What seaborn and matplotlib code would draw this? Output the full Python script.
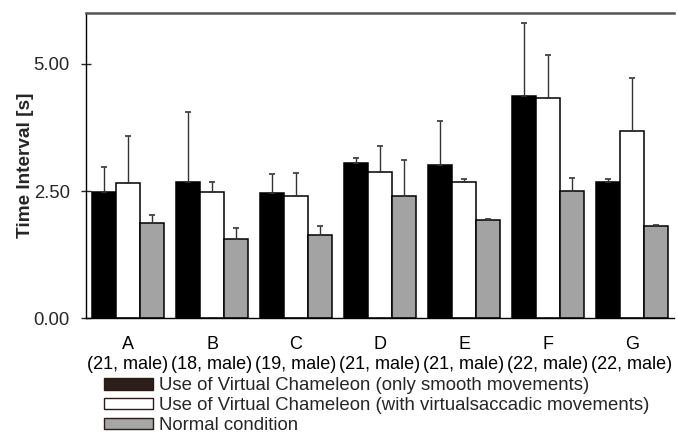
import numpy as np
import pandas as pd
import matplotlib
matplotlib.use("Agg")
import matplotlib.pyplot as plt
import seaborn as sns
from matplotlib.patches import Patch
from matplotlib.ticker import FormatStrFormatter, FixedLocator

# ---- data ----
subjects = ["A", "B", "C", "D", "E", "F", "G"]
subject_info = ["(21, male)", "(18, male)", "(19, male)", "(21, male)",
                "(21, male)", "(22, male)", "(22, male)"]
conditions = ["Use of Virtual Chameleon (only smooth movements)",
              "Use of Virtual Chameleon (with virtualsaccadic movements)",
              "Normal condition"]
smooth = [2.49, 2.67, 2.47, 3.05, 3.02, 4.36, 2.67]
smooth_err = [0.48, 1.38, 0.37, 0.10, 0.86, 1.44, 0.07]
saccadic = [2.65, 2.48, 2.41, 2.87, 2.67, 4.33, 3.69]
saccadic_err = [0.93, 0.19, 0.44, 0.52, 0.06, 0.85, 1.04]
normal = [1.875, 1.56, 1.63, 2.41, 1.94, 2.50, 1.82]
normal_err = [0.155, 0.22, 0.19, 0.70, 0.02, 0.26, 0.015]

values = [smooth, saccadic, normal]
errors = [smooth_err, saccadic_err, normal_err]

rows = []
for cond, vals, errs in zip(conditions, values, errors):
    for s, v, e in zip(subjects, vals, errs):
        rows.append({"subject": s, "condition": cond, "value": v, "err": e})
df = pd.DataFrame(rows)

# ---- style ----
sns.set_style("white")
plt.rcParams["font.family"] = ["Liberation Sans", "DejaVu Sans"]
plt.rcParams["font.size"] = 13

bar_colors = ["#000000", "#ffffff", "#a3a3a3"]
legend_colors = ["#2d1e1b", "#ffffff", "#a6a6a6"]

fig = plt.figure(figsize=(6.77, 4.34), dpi=100)
ax = fig.add_axes([86 / 677, 1 - 318.3 / 434, (674 - 86) / 677, (318.3 - 13) / 434])

sns.barplot(data=df, x="subject", y="value", hue="condition",
            hue_order=conditions, order=subjects, palette=bar_colors,
            errorbar=None, width=0.864, gap=0, edgecolor="black",
            linewidth=1.1, ax=ax, legend=False)

for cont, errs in zip(ax.containers, errors):
    xs = [b.get_x() + b.get_width() / 2 for b in cont]
    hs = [b.get_height() for b in cont]
    ax.errorbar(xs, hs, yerr=[np.zeros(len(errs)), errs], fmt="none",
                ecolor="#333333", elinewidth=1.0, capsize=2.5, capthick=1.2,
                zorder=1)

ax.set_xlim(-0.5, 6.5)
ax.set_ylim(0, 6.0)
ax.set_yticks([0, 2.5, 5.0])
ax.yaxis.set_major_formatter(FormatStrFormatter("%.2f"))
ax.set_xticks(range(len(subjects)))
ax.set_xticklabels([f"{s}\n{i}" for s, i in zip(subjects, subject_info)],
                   linespacing=1.22)
ax.xaxis.set_minor_locator(FixedLocator(np.arange(-0.5, 7.0, 1.0)))
ax.tick_params(axis="x", which="major", direction="inout", length=4.3,
               width=1, pad=10.5, labelsize=13, colors="black")
ax.tick_params(axis="x", which="minor", direction="out", length=4.3,
               width=1, colors="black")
ax.tick_params(axis="y", which="major", direction="inout", length=7.2,
               width=1, pad=8, labelsize=13.3, left=True)
ax.set_xlabel("")
ax.set_ylabel("Time Interval [s]", fontsize=13.7, fontweight="bold", labelpad=0)

for side in ["left", "bottom"]:
    ax.spines[side].set_color("black")
    ax.spines[side].set_linewidth(1.0)
ax.spines["top"].set_color("#555555")
ax.spines["top"].set_linewidth(1.8)
ax.spines["right"].set_visible(False)

handles = [Patch(facecolor=c, edgecolor="#2a1a18", linewidth=1.0)
           for c in legend_colors]
fig.legend(handles, conditions, loc="upper left",
           bbox_to_anchor=(104 / 677, 1 - 377.5 / 434), frameon=False,
           borderpad=0, borderaxespad=0, handlelength=2.65, handleheight=0.55,
           handletextpad=0.33, labelspacing=0.15, fontsize=13.4)

fig.savefig("out.png", dpi=100)
